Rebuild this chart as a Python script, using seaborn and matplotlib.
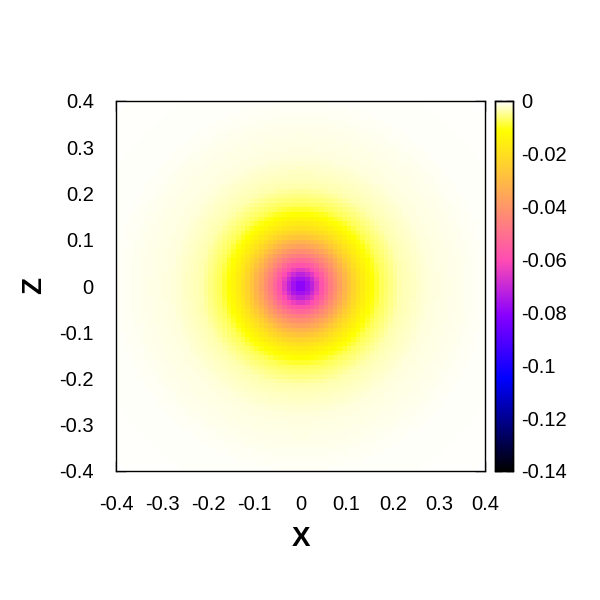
import numpy as np
import pandas as pd
import matplotlib
matplotlib.use("Agg")
import matplotlib.pyplot as plt
from matplotlib.colors import ListedColormap
import seaborn as sns

# Radial profile (distance from centre -> value)
radius = [0.0, 0.022, 0.043, 0.065, 0.087, 0.108, 0.130, 0.152, 0.174, 0.217, 0.282, 0.40, 0.57]
value = [-0.083, -0.074, -0.060, -0.047, -0.036, -0.026, -0.018, -0.012, -0.0075, -0.0035, -0.0015, -0.0004, -0.0001]

x_ticks = [-0.4, -0.3, -0.2, -0.1, 0, 0.1, 0.2, 0.3, 0.4]
z_ticks = [-0.4, -0.3, -0.2, -0.1, 0, 0.1, 0.2, 0.3, 0.4]
cb_ticks = [-0.14, -0.12, -0.1, -0.08, -0.06, -0.04, -0.02, 0]

# grid
xmin, xmax, step = -0.4, 0.4, 0.01
n = int(round((xmax - xmin) / step))
centers = xmin + step * (np.arange(n) + 0.5)
X, Z = np.meshgrid(centers, centers[::-1])
R = np.sqrt(X**2 + Z**2)
F = np.interp(R, radius, value)
df = pd.DataFrame(F, index=np.round(centers[::-1], 3), columns=np.round(centers, 3))

# gnuplot rgbformulae 30,31,32 palette
t = np.linspace(0, 1, 1024)
r = np.clip(t / 0.32 - 0.78125, 0, 1)
g = np.clip(2 * t - 0.84, 0, 1)
b = np.where(t < 0.25, 4 * t,
     np.where(t < 0.42, 1.0,
      np.where(t < 0.92, -2 * t + 1.84, t / 0.08 - 11.5)))
b = np.clip(b, 0, 1)
cmap = ListedColormap(np.column_stack([r, g, b]))

sns.set_style("white")
plt.rcParams['font.family'] = ['Liberation Sans', 'DejaVu Sans']
plt.rcParams['text.color'] = 'black'
plt.rcParams['axes.labelcolor'] = 'black'

fig = plt.figure(figsize=(6, 6), dpi=100)
ax = fig.add_axes([116/600, 1 - 471/600, 369/600, 370/600])
cax = fig.add_axes([495/600, 1 - 471/600, 18/600, 370/600])

sns.heatmap(df, ax=ax, cmap=cmap, vmin=-0.14, vmax=0, cbar_ax=cax,
            xticklabels=False, yticklabels=False, rasterized=True)

def to_idx(v):
    return (v - xmin) / step

fs = 14.5
ax.set_xticks([to_idx(v) for v in x_ticks])
ax.set_xticklabels([f"{v:g}" for v in x_ticks], rotation=0, fontsize=fs, color='black')
ax.set_yticks([n - to_idx(v) for v in z_ticks])
ax.set_yticklabels([f"{v:g}" for v in z_ticks], rotation=0, fontsize=fs, color='black')
for s in ax.spines.values():
    s.set_visible(True)
    s.set_color("black")
    s.set_linewidth(1.0)
ax.tick_params(axis='x', direction='in', length=7, width=1, top=True, bottom=True, pad=17, colors='black')
ax.tick_params(axis='y', direction='in', length=7, width=1, left=True, right=True, pad=16, colors='black')
ax.set_xlabel("X", fontsize=20, fontweight='bold', labelpad=9, color='black')
ax.set_ylabel("Z", fontsize=20, fontweight='bold', rotation=90, labelpad=9, color='black')

cax.set_yticks(cb_ticks)
cax.set_yticklabels([f"{v:g}" for v in cb_ticks], fontsize=fs, color='black')
cax.tick_params(axis='y', direction='in', length=5, width=1, left=True, right=True, pad=6, colors='black')
for s in cax.spines.values():
    s.set_visible(True)
    s.set_color("black")
    s.set_linewidth(1.0)

fig.savefig("out.png", dpi=100, facecolor="white")
